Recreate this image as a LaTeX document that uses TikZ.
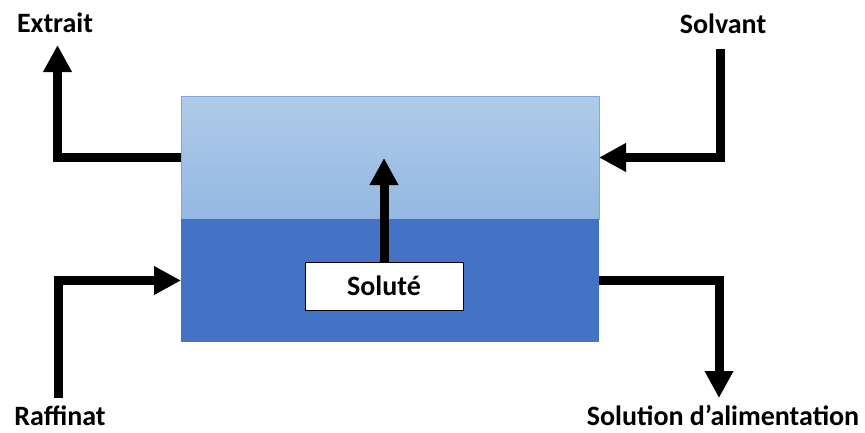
\documentclass[tikz,border=0pt]{standalone}
\usepackage{fontspec}
\setmainfont{Carlito}
\usetikzlibrary{arrows.meta}
\definecolor{toplight}{HTML}{B0CBE9}
\definecolor{botlight}{HTML}{93B8E2}
\definecolor{darkphase}{HTML}{4472C4}
\definecolor{edgeblue}{HTML}{7EA9DE}
\tikzset{
  phase/.style={rectangle, inner sep=0pt, outer sep=0pt, minimum width=418pt, minimum height=123pt},
  flow/.style={line width=9pt, line join=miter, -{Triangle[length=27pt,width=27pt]}},
  lbl/.style={font=\fontsize{28}{34}\selectfont\bfseries, inner sep=0pt},
  solbox/.style={rectangle, draw=black, line width=1pt, fill=white, inner sep=0pt, minimum width=158pt, minimum height=48pt, font=\fontsize{28}{34}\selectfont\bfseries}
}
\begin{document}
\begin{tikzpicture}[x=1pt,y=-1pt]
\useasboundingbox (0,0) rectangle (865,432);
\node[phase, top color=toplight, bottom color=botlight, draw=edgeblue, line width=0.8pt] (upper) at (390,157.5) {};
\node[phase, fill=darkphase] (lower) at (390,280.5) {};
\node[solbox] (solute) at (384,286) {Soluté};
\node[lbl] (extrait) at (55,23) {Extrait};
\node[lbl] (solvant) at (723,24) {Solvant};
\node[lbl] (raffinat) at (60,416) {Raffinat};
\node[lbl] (solution) at (723,415) {Solution d’alimentation};
\coordinate (extEnd) at (57.5,45);
\coordinate (solvStart) at (720,49);
\coordinate (raffStart) at (58.5,398);
\coordinate (solEnd) at (719,398);
\coordinate (soluteEnd) at (384,158);
\draw[flow] (upper.west) -| (extEnd);
\draw[flow] (solvStart) |- (upper.east);
\draw[flow] (raffStart) |- (lower.west);
\draw[flow] (lower.east) -| (solEnd);
\draw[flow] (solute.north) -- (soluteEnd);
\end{tikzpicture}
\end{document}
